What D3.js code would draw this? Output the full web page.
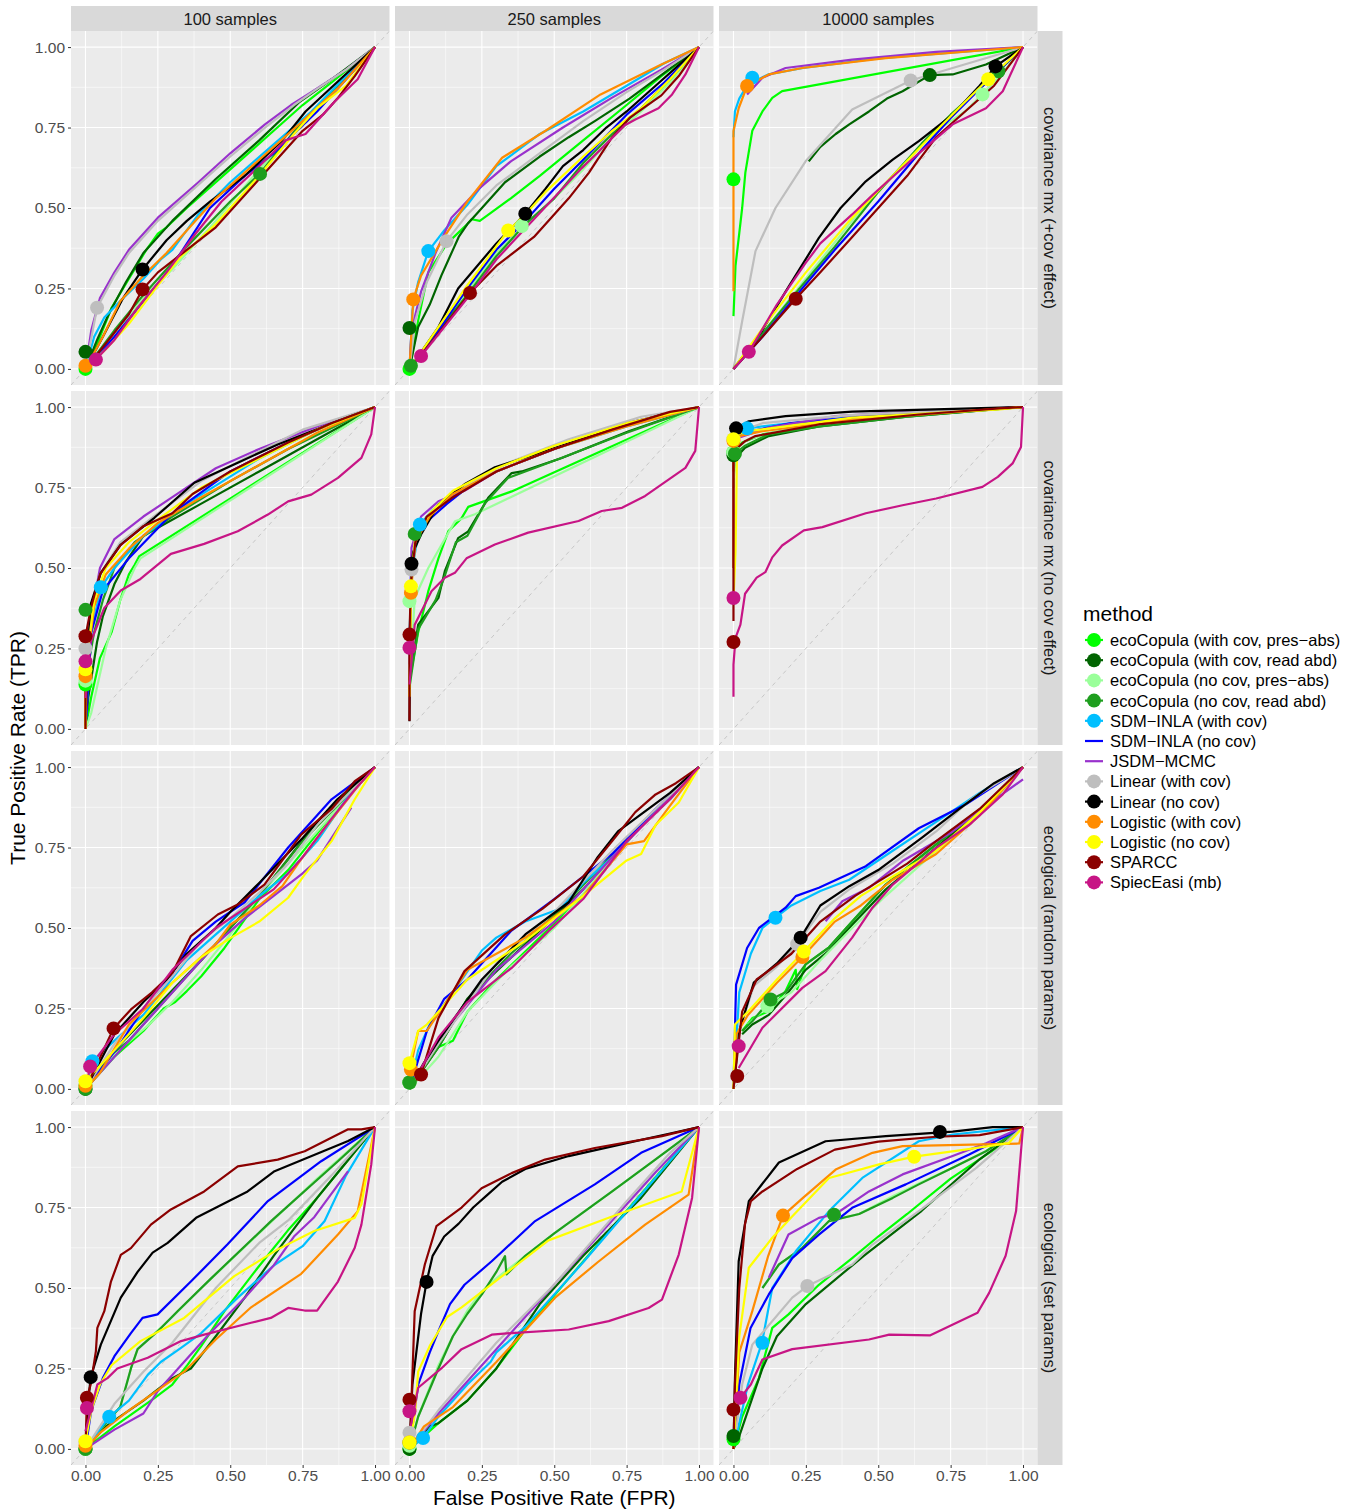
<!DOCTYPE html>
<html lang="en">
<head>
<meta charset="UTF-8">
<title>ROC curves by method</title>
<script src="https://d3js.org/d3.v7.min.js"></script>
<style>
  body { margin: 0; background: #fff; }
  svg text { font-family: "Liberation Sans", Arial, sans-serif; }
</style>
</head>
<body>
<svg id="chart" width="1356" height="1512"></svg>
<script>
const methods = [
  "ecoCopula (with cov, pres\u2212abs)", "ecoCopula (with cov, read abd)",
  "ecoCopula (no cov, pres\u2212abs)", "ecoCopula (no cov, read abd)",
  "SDM\u2212INLA (with cov)", "SDM\u2212INLA (no cov)", "JSDM\u2212MCMC",
  "Linear (with cov)", "Linear (no cov)", "Logistic (with cov)",
  "Logistic (no cov)", "SPARCC", "SpiecEasi (mb)"
];
const methodColors = [
  "#00FF00", "#006400", "#9AFF9A", "#1E9E1E", "#00BFFF", "#0000FF", "#9932CC",
  "#BEBEBE", "#000000", "#FF8C00", "#FFFF00", "#8B0000", "#C71585"
];
const methodHasDot = [true, true, true, true, true, false, false, true, true, true, true, true, true];
const sampleSizes = ["100 samples", "250 samples", "10000 samples"];
const scenarios = [
  "covariance mx (+cov effect)", "covariance mx (no cov effect)",
  "ecological (random params)", "ecological (set params)"
];
const majorTicks = [0, 0.25, 0.5, 0.75, 1];
const minorTicks = [0.125, 0.375, 0.625, 0.875];

// each curve: flat list fpr,tpr,fpr,tpr,... in method order
const covEff100 = [
  [0,0, .05,.1, .09,.19, .15,.28, .21,.37, .25,.42, .28,.44, .35,.5, .5,.62, .65,.74, .75,.82, .85,.89, 1,1],
  [0,0, .04,.09, .08,.17, .14,.27, .2,.36, .3,.46, .45,.59, .6,.71, .74,.83, .85,.9, 1,1],
  [0,0, .1,.1, .2,.22, .3,.31, .45,.46, .6,.62, .75,.76, .88,.88, 1,1],
  [0,0, .1,.12, .2,.23, .35,.38, .5,.52, .6,.605, .75,.77, .88,.89, 1,1],
  [0,0, .03,.1, .065,.16, .13,.22, .2,.28, .26,.34, .3,.37, .39,.48, .5,.58, .64,.69, .78,.8, .9,.91, 1,1],
  [0,0, .1,.1, .2,.21, .3,.32, .43,.5, .55,.6, .65,.67, .8,.8, .9,.9, 1,1],
  [0,0, .02,.12, .05,.22, .1,.3, .15,.37, .25,.47, .39,.58, .5,.67, .62,.76, .71,.82, .78,.86, .9,.93, 1,1],
  [0,0, .04,.19, .1,.29, .15,.36, .25,.46, .4,.58, .5,.66, .62,.75, .72,.82, .8,.87, .9,.93, 1,1],
  [0,0, .06,.1, .13,.22, .197,.309, .28,.4, .35,.46, .43,.52, .55,.6, .68,.71, .76,.8, .88,.9, 1,1],
  [0,0, .06,.1, .12,.21, .2,.29, .28,.36, .36,.44, .45,.53, .55,.61, .65,.69, .75,.77, .87,.87, 1,1],
  [0,0, .08,.07, .15,.14, .25,.26, .33,.35, .45,.45, .6,.6, .72,.73, .8,.81, .9,.88, 1,1],
  [0,0, .08,.09, .15,.17, .197,.247, .25,.3, .35,.37, .45,.44, .6,.59, .65,.64, .75,.74, .82,.79, .87,.84, .93,.91, 1,1],
  [0,0, .036,.029, .1,.09, .18,.19, .28,.3, .38,.42, .47,.52, .6,.63, .69,.71, .76,.73, .86,.83, .94,.9, 1,1]
];
const covEff100Dots = [[0,0],[0,.053],null,[.603,.606],null,null,null,[.04,.19],[.197,.309],[0,.01],null,[.197,.247],[.036,.029]];

const covEff250 = [
  [0,0, .03,.15, .065,.3, .13,.39, .2,.45, .215,.465, .243,.46, .35,.53, .45,.6, .6,.71, .75,.82, .87,.91, 1,1],
  [0,0, .03,.13, .07,.2, .11,.29, .15,.37, .17,.41, .2,.45, .23,.48, .33,.58, .45,.66, .55,.72, .64,.77, .76,.84, .88,.92, 1,1],
  [0,0, .1,.12, .2,.24, .3,.36, .39,.44, .5,.53, .6,.62, .7,.72, .8,.8, .9,.89, 1,1],
  [0,0, .1,.12, .2,.23, .3,.35, .4,.45, .5,.53, .6,.64, .7,.73, .8,.81, .9,.9, 1,1],
  [0,0, .01,.18, .03,.27, .065,.366, .12,.43, .2,.51, .3,.63, .45,.73, .6,.8, .75,.88, .88,.95, 1,1],
  [0,0, .1,.12, .2,.25, .3,.37, .4,.46, .5,.56, .6,.65, .75,.79, .88,.89, 1,1],
  [0,0, .007,.12, .04,.24, .09,.36, .145,.47, .24,.56, .35,.645, .53,.75, .7,.843, .87,.93, 1,1],
  [0,0, .02,.15, .06,.27, .128,.397, .2,.48, .3,.57, .42,.65, .6,.77, .75,.86, .88,.93, 1,1],
  [0,0, .1,.13, .168,.25, .3,.39, .4,.482, .47,.56, .53,.63, .6,.68, .68,.75, .75,.8, .85,.88, 1,1],
  [0,0, .013,.216, .04,.29, .12,.41, .2,.52, .32,.656, .47,.74, .66,.853, .87,.946, 1,1],
  [0,0, .1,.13, .2,.26, .341,.43, .4,.48, .47,.55, .6,.66, .7,.74, .8,.81, .9,.9, 1,1],
  [0,0, .1,.11, .209,.236, .3,.32, .43,.41, .55,.53, .62,.61, .7,.72, .76,.78, .87,.85, .93,.91, 1,1],
  [0,0, .04,.04, .12,.13, .2,.22, .3,.34, .445,.48, .595,.624, .745,.758, .78,.775, .86,.81, .907,.853, .953,.915, 1,1]
];
const covEff250Dots = [[0,0],[0,.127],[.388,.444],[.005,.01],[.065,.366],null,null,[.128,.397],[.4,.482],[.013,.216],[.341,.43],[.209,.236],[.04,.04]];

const covEff10000 = [
  [0,.164, .007,.32, .03,.5, .041,.61, .065,.74, .1,.8, .134,.842, .168,.863, 1,1],
  [.26,.645, .3,.69, .353,.73, .4,.76, .468,.8, .53,.84, .584,.863, .678,.913, .757,.915, .872,.946, 1,1],
  [0,0, .1,.11, .25,.28, .4,.45, .55,.6, .7,.74, .8,.8, .86,.853, .93,.92, 1,1],
  [0,0, .1,.11, .2,.22, .35,.38, .5,.55, .65,.7, .75,.79, .85,.87, .915,.925, 1,1],
  [0,.72, .005,.8, .02,.84, .04,.87, .065,.89, .12,.915, .24,.935, .5,.965, 1,1],
  [0,0, .1,.1, .2,.21, .35,.37, .5,.52, .65,.68, .75,.78, .85,.87, 1,1],
  [.047,.853, .1,.905, .18,.935, .41,.961, .7,.985, 1,1],
  [0,0, .03,.148, .076,.366, .145,.5, .249,.645, .41,.806, .612,.896, .757,.935, 1,1],
  [0,0, .1,.12, .18,.24, .295,.407, .37,.5, .457,.583, .55,.65, .64,.708, .757,.79, .85,.88, .905,.94, 1,1],
  [0,.241, 0,.739, .018,.81, .047,.879, .122,.915, .238,.935, .526,.966, 1,1],
  [0,0, .12,.15, .25,.3, .4,.46, .55,.6, .7,.74, .8,.83, .88,.9, 1,1],
  [0,0, .1,.1, .215,.218, .3,.3, .4,.4, .5,.5, .6,.6, .7,.72, .8,.8, .9,.88, 1,1],
  [0,0, .053,.053, .15,.2, .25,.33, .3,.39, .41,.48, .48,.54, .64,.67, .757,.76, .872,.81, .93,.863, 1,1]
];
const covEff10000Dots = [[0,.589],[.678,.913],[.86,.853],[.915,.925],[.065,.905],null,null,[.612,.896],[.905,.94],[.047,.879],[.88,.9],[.215,.218],[.053,.053]];

const noCov100 = [
  [0,0, .02,.1, .05,.22, .09,.3, .12,.4, .15,.48, .17,.51, .186,.537, 1,1],
  [0,0, .01,.1, .04,.27, .06,.35, .1,.45, .14,.52, .2,.6, .4,.7, .6,.8, .8,.9, 1,1],
  [0,0, .02,.05, .07,.25, .12,.4, .17,.5, .19,.53, 1,1],
  [0,0, .01,.2, .03,.3, .06,.4, .1,.5, .17,.58, .3,.66, .5,.77, .7,.87, 1,1],
  [0,0, .02,.3, .053,.44, .1,.5, .2,.6, .35,.7, .6,.84, .8,.93, 1,1],
  [0,0, .02,.3, .06,.43, .15,.53, .3,.67, .5,.8, .7,.89, .85,.95, 1,1],
  [0,0, .01,.3, .05,.5, .1,.59, .2,.66, .3,.72, .45,.81, .6,.87, .8,.94, 1,1],
  [0,0, .005,.25, .02,.38, .05,.48, .12,.58, .25,.67, .4,.77, .55,.84, .75,.93, 1,1],
  [0,.01, .007,.22, .018,.387, .053,.485, .122,.573, .238,.656, .376,.765, .526,.827, .664,.884, .872,.957, 1,1],
  [0,0, 0,.164, .03,.38, .07,.48, .15,.56, .25,.64, .4,.72, .6,.82, .8,.92, 1,1],
  [0,0, 0,.185, .03,.4, .07,.5, .15,.58, .25,.65, .4,.75, .6,.84, .8,.93, 1,1],
  [0,0, 0,.288, .02,.38, .05,.48, .12,.57, .2,.63, .3,.67, .37,.73, .5,.8, .7,.89, .85,.95, 1,1],
  [0,.096, .018,.27, .065,.376, .122,.43, .19,.466, .295,.544, .41,.575, .526,.614, .63,.666, .7,.707, .78,.728, .872,.78, .953,.842, .987,.915, 1,1]
];
const noCov100Dots = [[0,.138],null,[0,.15],[0,.37],[.053,.44],null,null,[0,.25],null,[0,.164],[0,.185],[0,.288],[0,.21]];

const noCov250 = [
  [0,.15, .03,.3, .065,.428, .1,.53, .134,.614, .18,.655, .203,.69, .353,.738, 1,1],
  [0,.15, .03,.324, .1,.407, .122,.49, .168,.593, .203,.614, .272,.718, .353,.795, .388,.8, .526,.842, .757,.925, 1,1],
  [0,.1, .018,.407, .065,.5, .157,.645, .226,.667, 1,1],
  [0,.13, .03,.31, .09,.4, .12,.47, .16,.58, .2,.6, .26,.7, .34,.78, .4,.8, .52,.84, .75,.92, 1,1],
  [0,.3, .01,.5, .036,.635, .08,.68, .15,.73, .3,.8, .5,.87, .75,.94, 1,1],
  [0,.1, .005,.5, .03,.62, .08,.66, .13,.7, .2,.75, .3,.8, .5,.87, .75,.95, 1,1],
  [0,.2, .007,.563, .04,.66, .1,.707, .19,.74, .3,.8, .5,.87, .75,.95, 1,1],
  [0,.1, .007,.495, .03,.61, .1,.7, .2,.76, .35,.83, .55,.9, .8,.97, 1,1],
  [0,.024, .003,.324, .007,.513, .013,.55, .04,.604, .1,.697, .19,.76, .295,.813, .468,.863, .64,.915, .872,.977, .94,.987, 1,1],
  [0,.1, .005,.423, .02,.58, .07,.66, .15,.73, .3,.8, .5,.87, .75,.94, 1,1],
  [0,.1, .005,.443, .02,.6, .07,.67, .15,.74, .3,.81, .5,.88, .75,.95, 1,1],
  [0,.025, 0,.293, .005,.45, .02,.58, .06,.66, .15,.72, .3,.8, .5,.87, .7,.93, .9,.985, 1,1],
  [0,.138, .018,.324, .076,.428, .122,.47, .157,.485, .197,.53, .295,.573, .41,.61, .584,.646, .664,.677, .734,.687, .814,.724, .953,.811, .987,.864, 1,1]
];
const noCov250Dots = [null,null,[0,.397],[.018,.606],[.036,.635],null,null,[.007,.495],[.007,.513],[.005,.423],[.005,.443],[0,.293],[0,.252]];

const noCov10000 = [
  [0,.75, .005,.86, .03,.89, .1,.915, .3,.945, .6,.975, 1,1],
  [0,.8, .007,.842, .04,.874, .122,.91, .295,.94, .6,.97, 1,1],
  [0,.78, .01,.87, .05,.9, .15,.925, .4,.955, .7,.98, 1,1],
  [0,.8, .005,.855, .04,.88, .12,.915, .3,.94, .6,.97, 1,1],
  [0,.8, .01,.9, .047,.934, .1,.94, .3,.96, .6,.98, 1,1],
  [0,.5, 0,.88, .03,.92, .2,.95, .5,.975, 1,1],
  [0,.85, .018,.905, .122,.936, .353,.972, .6,.985, 1,1],
  [0,.8, .01,.92, .1,.95, .4,.975, 1,1],
  [0,.8, 0,.874, .013,.936, .053,.956, .18,.972, .41,.986, 1,1],
  [0,.5, 0,.895, .02,.91, .1,.925, .4,.96, .7,.98, 1,1],
  [0,.4, .007,.552, .013,.915, .065,.927, .41,.967, .918,.993, 1,1],
  [0,.335, 0,.863, .04,.894, .076,.91, .295,.946, .64,.977, .918,.996, 1,1],
  [0,.1, 0,.2, .007,.283, .024,.324, .04,.42, .08,.47, .11,.487, .134,.533, .168,.57, .243,.617, .307,.627, .457,.67, .584,.695, .7,.716, .86,.752, .913,.783, .964,.825, .993,.876, 1,1]
];
const noCov10000Dots = [[0,.86],[0,.85],[0,.86],[.005,.855],[.047,.934],null,null,[0,.9],[.009,.934],[0,.895],[0,.9],[0,.27],[0,.407]];

const ecoRand100 = [
  [0,0, .1,.1, .2,.18, .25,.23, .27,.25, .31,.27, .35,.304, .4,.35, .48,.438, .6,.59, .7,.68, .85,.85, 1,1],
  [0,0, .1,.12, .25,.26, .4,.4, .6,.6, .8,.83, 1,1],
  [0,0, .1,.11, .22,.2, .3,.27, .4,.37, .5,.48, .6,.6, .8,.8, 1,1],
  [0,0, .08,.1, .15,.15, .22,.22, .3,.3, .45,.45, .6,.6, .75,.77, .88,.89, 1,1],
  [0,0, .024,.086, .1,.15, .2,.23, .35,.4, .5,.52, .6,.6, .7,.67, .8,.77, .9,.9, 1,1],
  [0,0, .07,.08, .12,.14, .2,.25, .3,.36, .37,.46, .45,.52, .55,.58, .7,.75, .85,.9, 1,1],
  [0,0, .1,.1, .2,.2, .35,.35, .45,.45, .55,.53, .65,.6, .75,.67, .8,.71, .918,.874],
  [0,0, .1,.14, .2,.25, .3,.35, .4,.46, .5,.53, .6,.61, .7,.7, .8,.82, .9,.91, 1,1],
  [0,0, .1,.17, .2,.27, .28,.34, .35,.42, .45,.5, .5,.55, .6,.64, .75,.78, .87,.9, 1,1],
  [0,0, .05,.05, .15,.2, .3,.33, .45,.45, .5,.51, .6,.57, .68,.63, .75,.72, .8,.78, .95,.95, 1,1],
  [0,.024, .1,.12, .2,.22, .3,.33, .4,.41, .503,.47, .6,.52, .7,.594, .757,.666, .85,.77, .93,.9, 1,1],
  [0,0, .097,.188, .157,.247, .23,.3, .3,.36, .364,.475, .457,.542, .526,.573, .618,.635, .745,.79, .85,.87, .93,.956, 1,1],
  [0,0, .016,.07, .1,.17, .2,.25, .3,.37, .45,.5, .55,.56, .65,.62, .75,.72, .85,.84, .93,.93, 1,1]
];
const ecoRand100Dots = [[0,.01],[0,0],[0,.01],[0,0],[.024,.086],null,null,null,null,[0,.01],[0,.024],[.097,.188],[.016,.07]];

const ecoRand250 = [
  [0,0, .05,.08, .1,.13, .15,.15, .2,.24, .3,.34, .45,.47, .6,.6, .8,.82, 1,1],
  [0,0, .1,.13, .2,.28, .4,.45, .6,.62, .8,.82, 1,1],
  [0,0, .1,.1, .2,.24, .35,.38, .5,.5, .65,.66, .8,.82, 1,1],
  [0,0, .1,.13, .2,.28, .35,.42, .5,.54, .65,.68, .8,.82, 1,1],
  [0,0, .03,.12, .07,.2, .15,.3, .25,.43, .3,.47, .4,.52, .52,.56, .6,.64, .7,.72, .8,.82, .9,.9, 1,1],
  [0,0, .06,.18, .12,.28, .2,.34, .35,.49, .5,.59, .7,.73, .85,.87, 1,1],
  [0,0, .05,.08, .1,.15, .3,.37, .5,.52, .7,.72, .85,.86, 1,1],
  [0,0, .1,.14, .3,.39, .5,.55, .7,.74, .85,.87, 1,1],
  [0,0, .05,.08, .1,.15, .25,.34, .4,.48, .55,.58, .65,.72, .72,.8, .9,.92, 1,1],
  [0,.05, .03,.18, .06,.18, .2,.37, .4,.47, .6,.6, .75,.76, .81,.77, .9,.88, 1,1],
  [0,.08, .03,.18, .06,.2, .2,.34, .4,.46, .6,.6, .75,.71, .8,.73, .85,.82, .93,.89, 1,1],
  [0,0, .04,.045, .1,.22, .19,.366, .33,.48, .46,.56, .6,.66, .7,.77, .78,.86, .85,.915, .92,.95, 1,1],
  [0,0, .1,.16, .2,.27, .353,.376, .48,.49, .6,.59, .75,.77, .9,.9, 1,1]
];
const ecoRand250Dots = [[0,.02],[0,.02],[0,.02],[0,.02],null,null,null,null,null,[.005,.06],[0,.08],[.04,.045],null];

const ecoRand10000 = [
  [.03,.18, .065,.22, .122,.241, .18,.304, .215,.37, .22,.31, .249,.387, .33,.44, .41,.52, .526,.635, .7,.76, .872,.884, 1,1],
  [.03,.17, .065,.2, .122,.23, .18,.29, .215,.33, .249,.37, .33,.43, .41,.51, .526,.62, .7,.75, .872,.88, 1,1],
  [.05,.2, .117,.257, .2,.3, .3,.4, .41,.5, .526,.6, .7,.74, .872,.87, 1,1],
  [.03,.18, .065,.21, .128,.278, .18,.3, .215,.345, .249,.387, .33,.44, .41,.52, .526,.635, .7,.76, .872,.884, 1,1],
  [0,0, .02,.3, .06,.42, .1,.5, .145,.532, .2,.57, .3,.615, .4,.65, .55,.74, .7,.83, .85,.92, 1,1],
  [0,0, .009,.324, .047,.438, .088,.5, .18,.563, .215,.599, .295,.625, .457,.692, .64,.81, .8,.883, 1,1],
  [.318,.521, .376,.583, .468,.625, .584,.708, .757,.8, .895,.894, 1,.962],
  [0,0, .02,.18, .07,.32, .15,.38, .22,.45, .3,.55, .4,.62, .55,.7, .7,.8, .82,.9, 1,1],
  [0,0, .02,.18, .07,.33, .15,.39, .232,.47, .3,.57, .4,.63, .5,.68, .65,.78, .78,.87, .9,.95, 1,1],
  [0,0, .01,.17, .05,.23, .15,.33, .238,.41, .35,.52, .44,.57, .55,.65, .7,.73, .85,.85, 1,1],
  [0,0, .005,.2, .05,.24, .15,.34, .243,.427, .35,.53, .44,.6, .55,.66, .7,.74, .85,.86, 1,1],
  [0,0, .03,.24, .08,.34, .2,.42, .3,.52, .42,.6, .6,.7, .7,.77, .85,.87, 1,1],
  [.018,.065, .1,.19, .238,.314, .318,.366, .41,.47, .48,.563, .55,.635, .7,.749, .814,.82, .93,.915, 1,1]
];
const ecoRand10000Dots = [null,null,[.117,.257],[.128,.278],[.145,.532],null,null,[.22,.45],[.232,.47],[.238,.41],[.243,.427],[.013,.04],[.018,.133]];

const ecoSet100 = [
  [0,0, .1,.07, .238,.158, .3,.2, .353,.262, .4,.32, .48,.428, .595,.563, .7,.68, .8,.78, .9,.89, 1,1],
  [0,0, .07,.07, .2,.15, .3,.22, .364,.25, .45,.35, .55,.47, .65,.6, .8,.78, .9,.89, 1,1],
  [0,0, .07,.08, .12,.13, .157,.25, .18,.31, .24,.36, .3,.41, .4,.5, .6,.67, .8,.84, 1,1],
  [0,0, .07,.08, .12,.13, .157,.25, .18,.31, .249,.365, .318,.428, .434,.53, .64,.707, .872,.894, 1,1],
  [0,0, .082,.1, .15,.15, .215,.23, .26,.27, .33,.314, .4,.36, .526,.47, .65,.57, .75,.63, .826,.708, .9,.85, 1,1],
  [0,0, .02,.12, .06,.22, .1,.288, .157,.36, .197,.407, .249,.418, .364,.52, .49,.635, .63,.77, .814,.894, 1,1],
  [0,0, .1,.06, .2,.11, .25,.18, .3,.23, .42,.35, .55,.47, .65,.57, .72,.66, .79,.72, .907,.863],
  [0,0, .1,.14, .2,.24, .3,.33, .45,.5, .6,.64, .7,.71, .85,.85, 1,1],
  [0,0, .01,.15, .018,.223, .053,.324, .122,.47, .18,.55, .232,.61, .284,.64, .382,.718, .56,.8, .653,.863, .907,.957, 1,1],
  [0,0, .05,.05, .15,.12, .341,.24, .45,.34, .572,.44, .745,.544, .872,.666, .94,.738, 1,1],
  [0,.024, .02,.12, .05,.2, .09,.26, .19,.335, .341,.407, .514,.537, .664,.62, .79,.677, .93,.718, .953,.76, 1,1],
  [0,0, .005,.159, .018,.2, .036,.304, .041,.376, .065,.428, .088,.52, .122,.603, .157,.624, .226,.697, .295,.744, .41,.8, .526,.878, .664,.899, .757,.925, .907,.993, .953,.993, 1,1],
  [0,.055, .041,.2, .076,.22, .11,.25, .215,.283, .33,.335, .41,.355, .572,.392, .64,.407, .7,.438, .757,.43, .8,.43, .872,.52, .93,.625, .953,.697, .987,.884, 1,1]
];
const ecoSet100Dots = [[0,0],[0,0],[0,0],[0,0],[.082,.1],null,null,[0,.02],[.018,.223],[0,.01],[0,.024],[.005,.159],[.005,.127]];

const ecoSet250 = [
  [0,0, .1,.08, .2,.15, .3,.25, .4,.37, .55,.53, .75,.74, 1,1],
  [0,0, .07,.07, .1,.08, .2,.15, .3,.25, .45,.45, .6,.6, .8,.78, 1,1],
  [0,0, .03,.1, .1,.26, .15,.35, .2,.43, .25,.49, .3,.53, .4,.6, .5,.67, .7,.8, .85,.9, 1,1],
  [0,0, .03,.1, .1,.25, .15,.35, .2,.42, .25,.48, .3,.55, .33,.599, .335,.542, .4,.6, .5,.67, .7,.8, .85,.9, 1,1],
  [0,0, .047,.034, .1,.1, .2,.2, .28,.27, .3,.3, .4,.38, .6,.58, .8,.79, 1,1],
  [0,0, .03,.2, .07,.3, .1,.366, .14,.45, .19,.51, .284,.583, .434,.708, .64,.822, .8,.92, 1,1],
  [0,0, .1,.11, .3,.31, .5,.51, .7,.71, .85,.86, 1,1],
  [0,0, .1,.12, .3,.33, .5,.51, .75,.77, .9,.92, 1,1],
  [0,0, .01,.2, .04,.42, .059,.519, .08,.6, .12,.66, .17,.7, .22,.75, .27,.79, .32,.83, .4,.87, .55,.91, .75,.95, .9,.98, 1,1],
  [0,0, .05,.07, .15,.13, .3,.27, .503,.47, .65,.58, .814,.697, .964,.79, 1,1],
  [0,0, .02,.12, .03,.24, .07,.32, .13,.41, .18,.44, .33,.544, .48,.648, .688,.718, .94,.8, 1,1],
  [0,0, .005,.1, .018,.428, .053,.573, .093,.692, .18,.75, .249,.81, .353,.857, .468,.899, .64,.935, .872,.972, 1,1],
  [0,.05, .03,.19, .11,.25, .18,.31, .284,.355, .353,.36, .55,.371, .688,.397, .826,.438, .872,.464, .93,.604, .976,.78, 1,1]
];
const ecoSet250Dots = [[0,0],[0,0],[0,.01],[0,.02],[.047,.034],null,null,[0,.05],[.059,.519],[0,.02],[0,.02],[0,.153],[0,.117]];

const ecoSet10000 = [
  [0,0, .03,.1, .088,.22, .134,.376, .19,.418, .295,.51, .41,.593, .5,.66, .6,.73, .75,.84, .9,.93, 1,1],
  [0,0, .02,.04, .1,.25, .15,.35, .25,.45, .45,.6, .65,.74, .85,.9, 1,1],
  [.1,.5, .157,.573, .238,.625, .33,.708, .434,.73, .55,.785, .64,.825, .757,.874, .872,.925, 1,1],
  [.1,.5, .157,.573, .238,.625, .33,.708, .434,.73, .55,.78, .64,.822, .757,.874, .872,.925, 1,1],
  [0,0, .05,.2, .099,.332, .134,.5, .215,.614, .33,.739, .445,.842, .64,.956, .757,.977, 1,1],
  [0,0, .02,.2, .059,.376, .122,.48, .203,.593, .295,.666, .41,.749, .595,.822, .814,.915, 1,1],
  [.122,.532, .19,.666, .295,.718, .353,.73, .468,.8, .584,.853, .757,.91, .872,.95, 1,1],
  [0,0, .03,.2, .065,.324, .203,.47, .255,.506, .41,.573, .48,.635, .64,.739, .84,.874, 1,1],
  [0,0, .005,.22, .018,.583, .053,.77, .157,.89, .318,.956, .526,.972, .757,.986, .895,1, 1,1],
  [0,0, .02,.3, .065,.428, .12,.6, .171,.725, .24,.78, .353,.868, .48,.92, .584,.941, .987,.949, 1,1],
  [0,0, .02,.35, .053,.563, .134,.656, .2,.72, .33,.842, .503,.884, .624,.908, .8,.93, .95,.95, 1,1],
  [0,0, .005,.2, .02,.5, .04,.7, .06,.77, .1,.8, .22,.87, .35,.93, .5,.955, .7,.97, .85,.975, 1,1],
  [0,.1, .024,.159, .06,.2, .1,.278, .203,.31, .468,.34, .538,.355, .68,.353, .843,.423, .883,.485, .94,.6, .976,.739, .993,.925, 1,1]
];
const ecoSet10000Dots = [[0,.03],[0,.04],[.347,.728],[.347,.728],[.1,.33],null,null,[.255,.506],[.713,.985],[.171,.725],[.624,.908],[0,.122],[.024,.159]];

const panelCurves = [
  [covEff100, covEff250, covEff10000],
  [noCov100, noCov250, noCov10000],
  [ecoRand100, ecoRand250, ecoRand10000],
  [ecoSet100, ecoSet250, ecoSet10000]
];
const panelDots = [
  [covEff100Dots, covEff250Dots, covEff10000Dots],
  [noCov100Dots, noCov250Dots, noCov10000Dots],
  [ecoRand100Dots, ecoRand250Dots, ecoRand10000Dots],
  [ecoSet100Dots, ecoSet250Dots, ecoSet10000Dots]
];

const plotLeft = 71, plotTop = 31, panelW = 318.5, panelH = 354, gapX = 5.5, gapY = 6, stripSize = 25;
const lineW = 2.2, dotR = 7;
const svg = d3.select("#chart");
const toPairs = (flat) => d3.range(0, flat.length, 2).map((i) => [flat[i], flat[i + 1]]);

panelCurves.forEach((row, r) => {
  row.forEach((curves, c) => {
    const x0 = plotLeft + c * (panelW + gapX);
    const y0 = plotTop + r * (panelH + gapY);
    const x = d3.scaleLinear().domain([-0.05, 1.05]).range([x0, x0 + panelW]);
    const y = d3.scaleLinear().domain([-0.05, 1.05]).range([y0 + panelH, y0]);
    const g = svg.append("g");
    const clipId = `clip-${r}-${c}`;
    g.append("clipPath").attr("id", clipId)
      .append("rect").attr("x", x0).attr("y", y0).attr("width", panelW).attr("height", panelH);

    g.append("rect").attr("x", x0).attr("y", y0).attr("width", panelW).attr("height", panelH)
      .attr("fill", "#EBEBEB");

    // grid
    minorTicks.forEach((t) => {
      g.append("line").attr("x1", x(t)).attr("x2", x(t)).attr("y1", y0).attr("y2", y0 + panelH)
        .attr("stroke", "#fff").attr("stroke-width", 0.55);
      g.append("line").attr("y1", y(t)).attr("y2", y(t)).attr("x1", x0).attr("x2", x0 + panelW)
        .attr("stroke", "#fff").attr("stroke-width", 0.55);
    });
    majorTicks.forEach((t) => {
      g.append("line").attr("x1", x(t)).attr("x2", x(t)).attr("y1", y0).attr("y2", y0 + panelH)
        .attr("stroke", "#fff").attr("stroke-width", 1.1);
      g.append("line").attr("y1", y(t)).attr("y2", y(t)).attr("x1", x0).attr("x2", x0 + panelW)
        .attr("stroke", "#fff").attr("stroke-width", 1.1);
    });

    const plot = g.append("g").attr("clip-path", `url(#${clipId})`);
    plot.append("line")
      .attr("x1", x(-0.05)).attr("y1", y(-0.05)).attr("x2", x(1.05)).attr("y2", y(1.05))
      .attr("stroke", "#BDBDBD").attr("stroke-width", 0.8).attr("stroke-dasharray", "4,4");

    const line = d3.line().x((d) => x(d[0])).y((d) => y(d[1]));
    curves.forEach((flat, m) => {
      plot.append("path").datum(toPairs(flat))
        .attr("d", line).attr("fill", "none")
        .attr("stroke", methodColors[m]).attr("stroke-width", lineW)
        .attr("stroke-linejoin", "round");
    });
    panelDots[r][c].forEach((d, m) => {
      if (!d) return;
      plot.append("circle").attr("cx", x(d[0])).attr("cy", y(d[1])).attr("r", dotR)
        .attr("fill", methodColors[m]);
    });

    // strips
    if (r === 0) {
      svg.append("rect").attr("x", x0).attr("y", plotTop - stripSize).attr("width", panelW).attr("height", stripSize)
        .attr("fill", "#D9D9D9");
      svg.append("text").attr("x", x0 + panelW / 2).attr("y", plotTop - stripSize / 2)
        .attr("text-anchor", "middle").attr("dominant-baseline", "central")
        .attr("font-size", 16.5).attr("fill", "#1A1A1A").text(sampleSizes[c]);
    }
    if (c === 2) {
      const sx = x0 + panelW;
      svg.append("rect").attr("x", sx).attr("y", y0).attr("width", stripSize).attr("height", panelH)
        .attr("fill", "#D9D9D9");
      svg.append("text")
        .attr("transform", `translate(${sx + stripSize / 2},${y0 + panelH / 2}) rotate(90)`)
        .attr("text-anchor", "middle").attr("dominant-baseline", "central")
        .attr("font-size", 16.5).attr("fill", "#1A1A1A").text(scenarios[r]);
    }

    // axes
    if (c === 0) {
      const ax = svg.append("g").attr("transform", `translate(${x0},0)`)
        .call(d3.axisLeft(y).tickValues(majorTicks).tickFormat(d3.format(".2f")).tickSize(3).tickPadding(3));
      ax.select(".domain").remove();
      ax.selectAll("line").attr("stroke", "#333");
      ax.selectAll("text").attr("font-size", 15.5).attr("fill", "#4D4D4D").attr("font-family", null);
    }
    if (r === 3) {
      const ax = svg.append("g").attr("transform", `translate(0,${y0 + panelH})`)
        .call(d3.axisBottom(x).tickValues(majorTicks).tickFormat(d3.format(".2f")).tickSize(3).tickPadding(2));
      ax.select(".domain").remove();
      ax.selectAll("line").attr("stroke", "#333");
      ax.selectAll("text").attr("font-size", 15.5).attr("fill", "#4D4D4D").attr("font-family", null);
    }
  });
});

const plotRight = plotLeft + 3 * panelW + 2 * gapX;
const plotBottom = plotTop + 4 * panelH + 3 * gapY;
svg.append("text").attr("x", (plotLeft + plotRight) / 2).attr("y", plotBottom + 40)
  .attr("text-anchor", "middle").attr("font-size", 21).attr("fill", "#000")
  .text("False Positive Rate (FPR)");
svg.append("text")
  .attr("transform", `translate(25,${(plotTop + plotBottom) / 2}) rotate(-90)`)
  .attr("text-anchor", "middle").attr("font-size", 21).attr("fill", "#000")
  .text("True Positive Rate (TPR)");

// legend
const legend = svg.append("g").attr("transform", "translate(1083,0)");
legend.append("text").attr("x", 0).attr("y", 621).attr("font-size", 21).attr("fill", "#000").text("method");
methods.forEach((name, i) => {
  const cy = 640 + i * 20.2;
  legend.append("line").attr("x1", 2).attr("x2", 20).attr("y1", cy).attr("y2", cy)
    .attr("stroke", methodColors[i]).attr("stroke-width", lineW);
  if (methodHasDot[i]) {
    legend.append("circle").attr("cx", 11).attr("cy", cy).attr("r", dotR).attr("fill", methodColors[i]);
  }
  legend.append("text").attr("x", 27).attr("y", cy).attr("dominant-baseline", "central")
    .attr("font-size", 16.5).attr("fill", "#000").text(name);
});
</script>
</body>
</html>
